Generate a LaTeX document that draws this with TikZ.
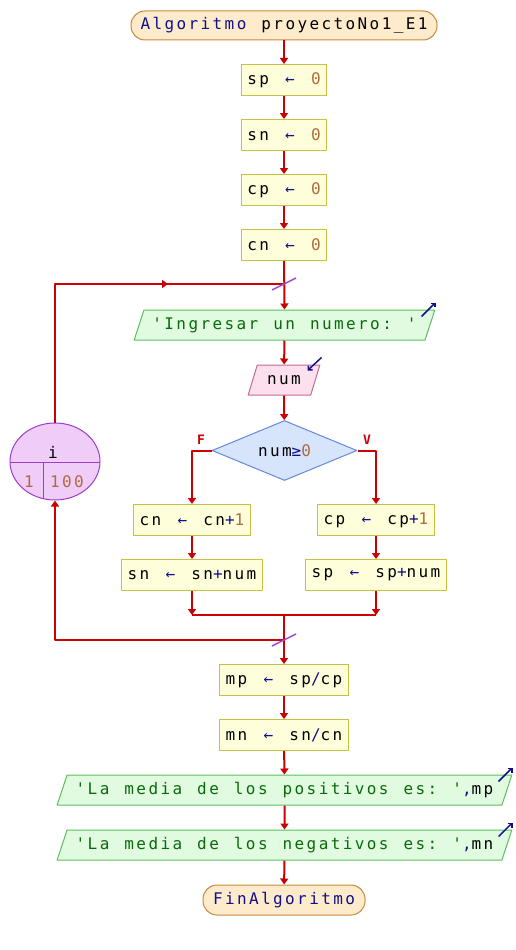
\documentclass[tikz,border=0pt]{standalone}
\usepackage{fontspec}
\setmonofont{DejaVu Sans Mono}[LetterSpace=15, WordSpace={1.25,0,0}]
\usetikzlibrary{shapes.geometric,arrows.meta,calc}
% colores del diagrama
\definecolor{rojo}{HTML}{CC0000}
\definecolor{kw}{HTML}{10108A}
\definecolor{numcol}{HTML}{B06A40}
\definecolor{fondoIni}{HTML}{FDEBCB}   \definecolor{bordeIni}{HTML}{C8883A}
\definecolor{fondoAsig}{HTML}{FEFEDA}  \definecolor{bordeAsig}{HTML}{C8C040}
\definecolor{fondoSal}{HTML}{E0FBE0}   \definecolor{bordeSal}{HTML}{5CC05C}
\definecolor{textoSal}{HTML}{0A6A0A}
\definecolor{fondoEnt}{HTML}{FCE0EE}   \definecolor{bordeEnt}{HTML}{C86890}
\definecolor{fondoDec}{HTML}{D6E4FC}   \definecolor{bordeDec}{HTML}{6688DD}
\definecolor{fondoCic}{HTML}{F0CCF8}   \definecolor{bordeCic}{HTML}{9A40C8}
\definecolor{barraCol}{HTML}{9A48D8}
\newcommand\asig{\makebox[12pt]{\textcolor{kw}{←}}}
\newcommand\nm[1]{\textcolor{numcol}{#1}}
\newcommand\op[1]{\textcolor{kw}{#1}}
\begin{document}
\begin{tikzpicture}[x=1pt, y=-1pt, line join=round,
    font=\ttfamily\fontsize{16}{19}\selectfont,
    inicio/.style={rectangle, rounded corners=14pt, draw=bordeIni, fill=fondoIni, line width=1pt, minimum height=29},
    asigna/.style={rectangle, draw=bordeAsig, fill=fondoAsig, line width=1pt, minimum height=31, inner xsep=6},
    salida/.style={trapezium, trapezium left angle=66.6, trapezium right angle=113.4, trapezium stretches=true,
        draw=bordeSal, fill=fondoSal, line width=1pt, minimum height=30, text=textoSal},
    entrada/.style={trapezium, trapezium left angle=66.6, trapezium right angle=113.4, trapezium stretches=true,
        draw=bordeEnt, fill=fondoEnt, line width=1pt, minimum height=30},
    decision/.style={diamond, aspect=2.4, draw=bordeDec, fill=fondoDec, line width=1pt, minimum width=145, minimum height=60, inner sep=0},
    linea/.style={draw=rojo, line width=2pt},
    flecha/.style={linea, -{Triangle[length=6pt, width=8pt]}},
    barra/.style={draw=barraCol, line width=1.5pt},
    icono/.style={draw=kw, line width=1.5pt, -{Straight Barb[length=3pt, width=6pt]}},
    etiq/.style={text=rojo, font=\ttfamily\bfseries\fontsize{13}{15}\selectfont}]
    \useasboundingbox (0,0) rectangle (516,950);
    %Inicio y asignaciones iniciales
    \node[inicio, minimum width=306] (inicio) at (284,25.5) {\op{Algoritmo} proyectoNo1\_E1};
    \node[asigna] (sp0) at (284,80) {sp \asig{} \nm{0}};
    \node[asigna] (sn0) at (284,135) {sn \asig{} \nm{0}};
    \node[asigna] (cp0) at (284,190) {cp \asig{} \nm{0}};
    \node[asigna] (cn0) at (284,245) {cn \asig{} \nm{0}};
    %Cuerpo del ciclo
    \node[salida, minimum width=301] (msg) at (284.5,325) {'Ingresar un numero: '};
    \node[entrada, minimum width=72] (leer) at (284,380) {num};
    \node[decision] (cond) at (284.5,450.5) {num\op{≥}\nm{0}};
    \node[asigna] (cn1) at (192,520) {cn \asig{} cn\op{+}\nm{1}};
    \node[asigna] (sn1) at (192,575) {sn \asig{} sn\op{+}num};
    \node[asigna] (cp1) at (376,520) {cp \asig{} cp\op{+}\nm{1}};
    \node[asigna] (sp1) at (376,575) {sp \asig{} sp\op{+}num};
    \node[etiq] (lblF) at (201,440) {F};
    \node[etiq] (lblV) at (367,440) {V};
    %Nodo del ciclo Para
    \node[ellipse, draw=bordeCic, fill=fondoCic, line width=1pt, minimum width=90, minimum height=77] (ciclo) at (55,461.5) {};
    \begin{scope}
        \clip (55,461.5) ellipse (45 and 38.5);
        \draw[bordeCic, line width=1pt] (10,462) -- (100,462) (43,462) -- (43,500);
    \end{scope}
    \node (var) at (53,452) {i};
    \node[text=numcol] (ini) at (29,482) {1};
    \node[text=numcol] (lim) at (67,482) {100};
    %Resultados y fin
    \node[asigna] (mp) at (284,680) {mp \asig{} sp\op{/}cp};
    \node[asigna] (mn) at (284,735) {mn \asig{} sn\op{/}cn};
    \node[salida, minimum width=457] (outp) at (284.5,790) {'La media de los positivos es: '\op{,}\textcolor{black}{mp}};
    \node[salida, minimum width=457] (outn) at (284.5,845) {'La media de los negativos es: '\op{,}\textcolor{black}{mn}};
    \node[inicio, minimum width=162, minimum height=30] (fin) at (284,900) {\op{FinAlgoritmo}};
    %Puntos de union
    \coordinate (jtop) at (284,284);
    \coordinate (jmid) at (168,284);
    \coordinate (merge) at (284,615);
    \coordinate (jbot) at (284,640);
    %Conectores
    \foreach \a/\b in {inicio/sp0, sp0/sn0, sn0/cp0, cp0/cn0, cn0/msg, msg/leer, leer/cond, cn1/sn1, cp1/sp1, mp/mn, mn/outp, outp/outn, outn/fin}
        \draw[flecha] (\a) -- (\b);
    \draw[flecha] (cond.west) -| (cn1.north);
    \draw[flecha] (cond.east) -| (cp1.north);
    \draw[flecha] (sn1.south) -- (sn1.south|-merge);
    \draw[flecha] (sp1.south) -- (sp1.south|-merge);
    \draw[linea] (sn1.south|-merge) -- (sp1.south|-merge);
    \draw[flecha] (merge) -- (mp.north);
    \draw[flecha] (jbot) -| (ciclo.south);
    \draw[linea] (ciclo.north) |- (jtop);
    \draw[flecha] (ciclo.north|-jtop) -- (jmid);
    \foreach \p in {jtop, jbot}
        \draw[barra] ($(\p)+(-12,6)$) -- ($(\p)+(12,-6)$);
    %Iconos de entrada/salida
    \foreach \n in {msg, outp, outn}
        \draw[icono] ($(\n.top right corner)+(-14,7)$) -- ($(\n.top right corner)+(0,-7)$);
    \draw[icono] ($(leer.top right corner)+(1,-7)$) -- ($(leer.top right corner)+(-13,6)$);
\end{tikzpicture}
\end{document}
